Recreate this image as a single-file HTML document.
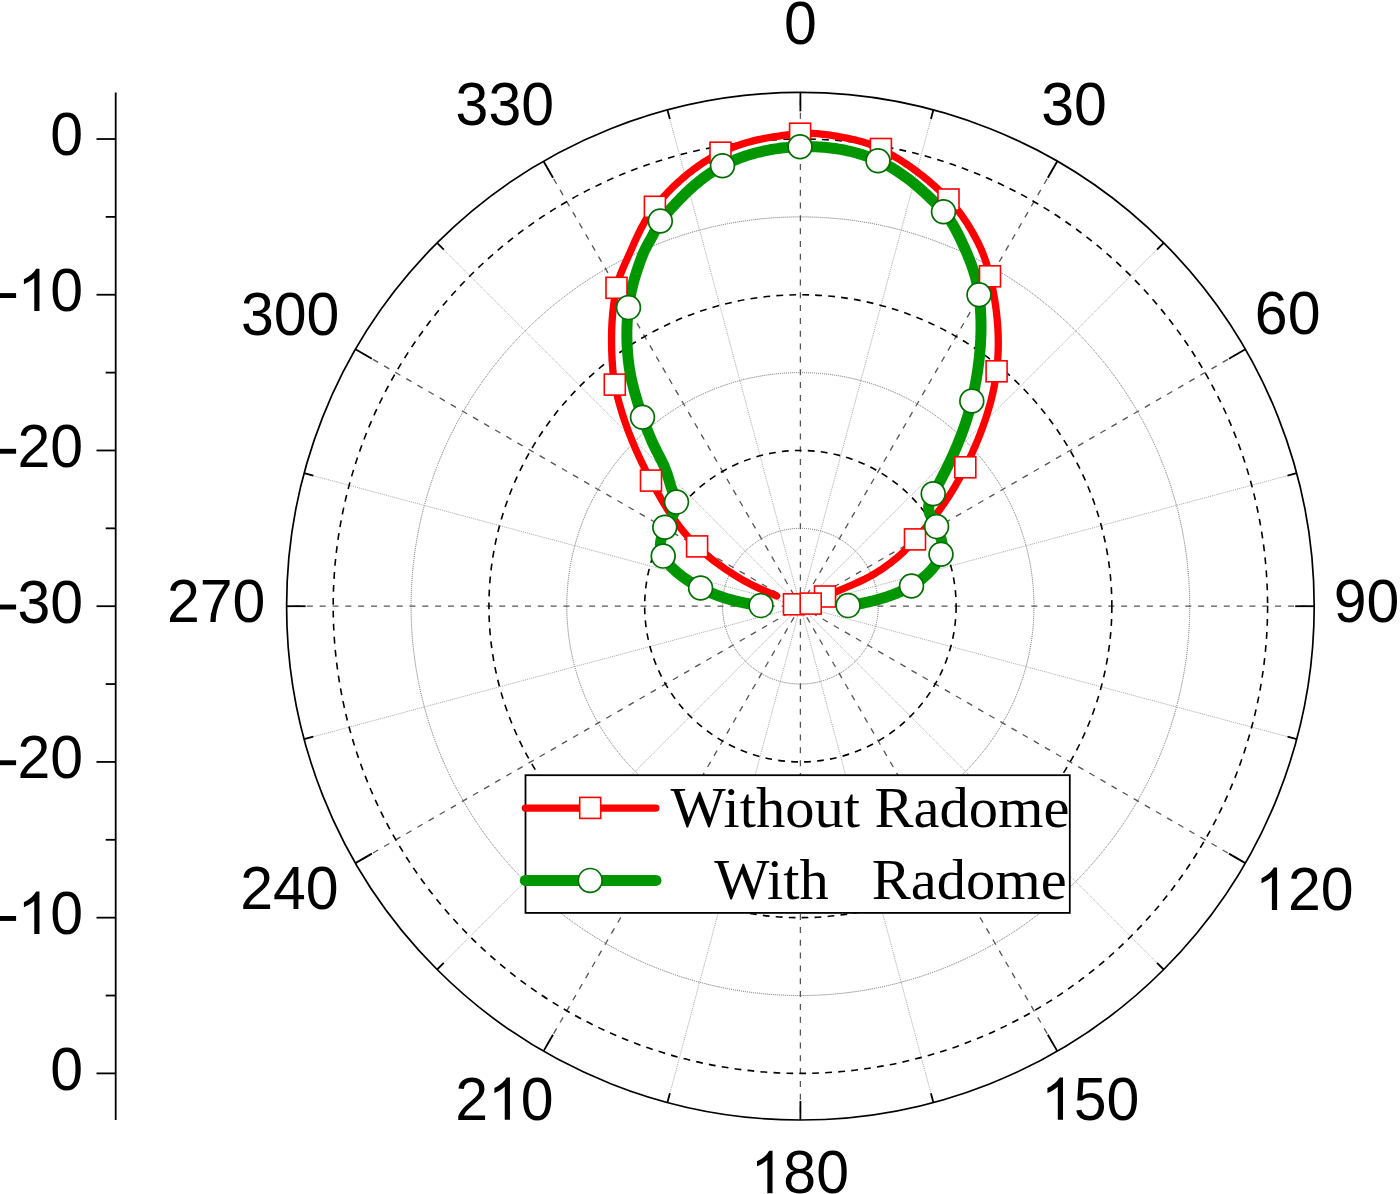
<!DOCTYPE html>
<html><head><meta charset="utf-8"><style>
html,body{margin:0;padding:0;background:#fff;}
svg{display:block;}
.t{font-family:"Liberation Sans",sans-serif;font-size:59px;fill:#000;}
.s{font-family:"Liberation Serif",serif;font-size:58.5px;fill:#000;}
</style></head><body>
<svg width="1400" height="1194" viewBox="0 0 1400 1194">
<rect width="1400" height="1194" fill="#fff"/>
<circle cx="800.4" cy="606.2" r="77.86" fill="none" stroke="#6a6a6a" stroke-width="1" stroke-dasharray="1 1"/>
<circle cx="800.4" cy="606.2" r="233.59" fill="none" stroke="#6a6a6a" stroke-width="1" stroke-dasharray="1 1"/>
<circle cx="800.4" cy="606.2" r="389.32" fill="none" stroke="#6a6a6a" stroke-width="1" stroke-dasharray="1 1"/>
<line x1="800.4" y1="606.2" x2="933.38" y2="109.91" stroke="#a8a8a8" stroke-width="1" stroke-dasharray="1 1"/>
<line x1="800.4" y1="606.2" x2="1163.71" y2="242.89" stroke="#a8a8a8" stroke-width="1" stroke-dasharray="1 1"/>
<line x1="800.4" y1="606.2" x2="1296.69" y2="473.22" stroke="#a8a8a8" stroke-width="1" stroke-dasharray="1 1"/>
<line x1="800.4" y1="606.2" x2="1296.69" y2="739.18" stroke="#a8a8a8" stroke-width="1" stroke-dasharray="1 1"/>
<line x1="800.4" y1="606.2" x2="1163.71" y2="969.51" stroke="#a8a8a8" stroke-width="1" stroke-dasharray="1 1"/>
<line x1="800.4" y1="606.2" x2="933.38" y2="1102.49" stroke="#a8a8a8" stroke-width="1" stroke-dasharray="1 1"/>
<line x1="800.4" y1="606.2" x2="667.42" y2="1102.49" stroke="#a8a8a8" stroke-width="1" stroke-dasharray="1 1"/>
<line x1="800.4" y1="606.2" x2="437.09" y2="969.51" stroke="#a8a8a8" stroke-width="1" stroke-dasharray="1 1"/>
<line x1="800.4" y1="606.2" x2="304.11" y2="739.18" stroke="#a8a8a8" stroke-width="1" stroke-dasharray="1 1"/>
<line x1="800.4" y1="606.2" x2="304.11" y2="473.22" stroke="#a8a8a8" stroke-width="1" stroke-dasharray="1 1"/>
<line x1="800.4" y1="606.2" x2="437.09" y2="242.89" stroke="#a8a8a8" stroke-width="1" stroke-dasharray="1 1"/>
<line x1="800.4" y1="606.2" x2="667.42" y2="109.91" stroke="#a8a8a8" stroke-width="1" stroke-dasharray="1 1"/>
<line x1="800.4" y1="606.2" x2="800.40" y2="92.40" stroke="#555" stroke-width="1.3" stroke-dasharray="6 6.83"/>
<line x1="800.4" y1="606.2" x2="1057.30" y2="161.24" stroke="#555" stroke-width="1.3" stroke-dasharray="6 6.83"/>
<line x1="800.4" y1="606.2" x2="1245.36" y2="349.30" stroke="#555" stroke-width="1.3" stroke-dasharray="6 6.83"/>
<line x1="800.4" y1="606.2" x2="1314.20" y2="606.20" stroke="#555" stroke-width="1.3" stroke-dasharray="6 6.83"/>
<line x1="800.4" y1="606.2" x2="1245.36" y2="863.10" stroke="#555" stroke-width="1.3" stroke-dasharray="6 6.83"/>
<line x1="800.4" y1="606.2" x2="1057.30" y2="1051.16" stroke="#555" stroke-width="1.3" stroke-dasharray="6 6.83"/>
<line x1="800.4" y1="606.2" x2="800.40" y2="1120.00" stroke="#555" stroke-width="1.3" stroke-dasharray="6 6.83"/>
<line x1="800.4" y1="606.2" x2="543.50" y2="1051.16" stroke="#555" stroke-width="1.3" stroke-dasharray="6 6.83"/>
<line x1="800.4" y1="606.2" x2="355.44" y2="863.10" stroke="#555" stroke-width="1.3" stroke-dasharray="6 6.83"/>
<line x1="800.4" y1="606.2" x2="286.60" y2="606.20" stroke="#555" stroke-width="1.3" stroke-dasharray="6 6.83"/>
<line x1="800.4" y1="606.2" x2="355.44" y2="349.30" stroke="#555" stroke-width="1.3" stroke-dasharray="6 6.83"/>
<line x1="800.4" y1="606.2" x2="543.50" y2="161.24" stroke="#555" stroke-width="1.3" stroke-dasharray="6 6.83"/>
<circle cx="800.4" cy="606.2" r="155.73" fill="none" stroke="#000" stroke-width="1.6" stroke-dasharray="6.8 6.2"/>
<circle cx="800.4" cy="606.2" r="311.46" fill="none" stroke="#000" stroke-width="1.6" stroke-dasharray="6.8 6.2"/>
<circle cx="800.4" cy="606.2" r="467.19" fill="none" stroke="#000" stroke-width="1.6" stroke-dasharray="6.8 6.2"/>
<circle cx="800.4" cy="606.2" r="513.8" fill="none" stroke="#000" stroke-width="1.7"/>
<line x1="800.40" y1="92.40" x2="800.40" y2="111.40" stroke="#000" stroke-width="1.8"/>
<line x1="933.38" y1="109.91" x2="930.92" y2="119.08" stroke="#000" stroke-width="1.8"/>
<line x1="1057.30" y1="161.24" x2="1047.80" y2="177.69" stroke="#000" stroke-width="1.8"/>
<line x1="1163.71" y1="242.89" x2="1156.99" y2="249.61" stroke="#000" stroke-width="1.8"/>
<line x1="1245.36" y1="349.30" x2="1228.91" y2="358.80" stroke="#000" stroke-width="1.8"/>
<line x1="1296.69" y1="473.22" x2="1287.52" y2="475.68" stroke="#000" stroke-width="1.8"/>
<line x1="1314.20" y1="606.20" x2="1295.20" y2="606.20" stroke="#000" stroke-width="1.8"/>
<line x1="1296.69" y1="739.18" x2="1287.52" y2="736.72" stroke="#000" stroke-width="1.8"/>
<line x1="1245.36" y1="863.10" x2="1228.91" y2="853.60" stroke="#000" stroke-width="1.8"/>
<line x1="1163.71" y1="969.51" x2="1156.99" y2="962.79" stroke="#000" stroke-width="1.8"/>
<line x1="1057.30" y1="1051.16" x2="1047.80" y2="1034.71" stroke="#000" stroke-width="1.8"/>
<line x1="933.38" y1="1102.49" x2="930.92" y2="1093.32" stroke="#000" stroke-width="1.8"/>
<line x1="800.40" y1="1120.00" x2="800.40" y2="1101.00" stroke="#000" stroke-width="1.8"/>
<line x1="667.42" y1="1102.49" x2="669.88" y2="1093.32" stroke="#000" stroke-width="1.8"/>
<line x1="543.50" y1="1051.16" x2="553.00" y2="1034.71" stroke="#000" stroke-width="1.8"/>
<line x1="437.09" y1="969.51" x2="443.81" y2="962.79" stroke="#000" stroke-width="1.8"/>
<line x1="355.44" y1="863.10" x2="371.89" y2="853.60" stroke="#000" stroke-width="1.8"/>
<line x1="304.11" y1="739.18" x2="313.28" y2="736.72" stroke="#000" stroke-width="1.8"/>
<line x1="286.60" y1="606.20" x2="305.60" y2="606.20" stroke="#000" stroke-width="1.8"/>
<line x1="304.11" y1="473.22" x2="313.28" y2="475.68" stroke="#000" stroke-width="1.8"/>
<line x1="355.44" y1="349.30" x2="371.89" y2="358.80" stroke="#000" stroke-width="1.8"/>
<line x1="437.09" y1="242.89" x2="443.81" y2="249.61" stroke="#000" stroke-width="1.8"/>
<line x1="543.50" y1="161.24" x2="553.00" y2="177.69" stroke="#000" stroke-width="1.8"/>
<line x1="667.42" y1="109.91" x2="669.88" y2="119.08" stroke="#000" stroke-width="1.8"/>
<line x1="115.7" y1="92.40" x2="115.7" y2="1120.00" stroke="#000" stroke-width="1.8"/>
<line x1="96.50" y1="139.01" x2="115.7" y2="139.01" stroke="#000" stroke-width="1.8"/>
<line x1="105.70" y1="216.88" x2="115.7" y2="216.88" stroke="#000" stroke-width="1.8"/>
<line x1="96.50" y1="294.74" x2="115.7" y2="294.74" stroke="#000" stroke-width="1.8"/>
<line x1="105.70" y1="372.61" x2="115.7" y2="372.61" stroke="#000" stroke-width="1.8"/>
<line x1="96.50" y1="450.47" x2="115.7" y2="450.47" stroke="#000" stroke-width="1.8"/>
<line x1="105.70" y1="528.34" x2="115.7" y2="528.34" stroke="#000" stroke-width="1.8"/>
<line x1="96.50" y1="606.20" x2="115.7" y2="606.20" stroke="#000" stroke-width="1.8"/>
<line x1="105.70" y1="684.07" x2="115.7" y2="684.07" stroke="#000" stroke-width="1.8"/>
<line x1="96.50" y1="761.93" x2="115.7" y2="761.93" stroke="#000" stroke-width="1.8"/>
<line x1="105.70" y1="839.80" x2="115.7" y2="839.80" stroke="#000" stroke-width="1.8"/>
<line x1="96.50" y1="917.66" x2="115.7" y2="917.66" stroke="#000" stroke-width="1.8"/>
<line x1="105.70" y1="995.53" x2="115.7" y2="995.53" stroke="#000" stroke-width="1.8"/>
<line x1="96.50" y1="1073.39" x2="115.7" y2="1073.39" stroke="#000" stroke-width="1.8"/>
<g transform="translate(50.29,155.31) scale(1,1.043)"><text x="0.00" y="0" class="t">0</text></g>
<g transform="translate(-2.17,311.04) scale(1,1.043)"><path transform="translate(0.00,0) scale(0.028809,-0.028809)" d="M48 434H634V597H48Z"/><path transform="translate(19.65,0) scale(0.028809,-0.027621)" d="M763 0L583 0L583 1147Q518 1085 412.5 1023Q307 961 223 930L223 1104Q374 1175 487 1276Q600 1377 647 1472L763 1472Z"/><text x="52.46" y="0" class="t">0</text></g>
<g transform="translate(-2.17,466.77) scale(1,1.043)"><path transform="translate(0.00,0) scale(0.028809,-0.028809)" d="M48 434H634V597H48Z"/><text x="19.65" y="0" class="t">2</text><text x="52.46" y="0" class="t">0</text></g>
<g transform="translate(-2.17,622.50) scale(1,1.043)"><path transform="translate(0.00,0) scale(0.028809,-0.028809)" d="M48 434H634V597H48Z"/><text x="19.65" y="0" class="t">3</text><text x="52.46" y="0" class="t">0</text></g>
<g transform="translate(-2.17,778.23) scale(1,1.043)"><path transform="translate(0.00,0) scale(0.028809,-0.028809)" d="M48 434H634V597H48Z"/><text x="19.65" y="0" class="t">2</text><text x="52.46" y="0" class="t">0</text></g>
<g transform="translate(-2.17,933.96) scale(1,1.043)"><path transform="translate(0.00,0) scale(0.028809,-0.028809)" d="M48 434H634V597H48Z"/><path transform="translate(19.65,0) scale(0.028809,-0.027621)" d="M763 0L583 0L583 1147Q518 1085 412.5 1023Q307 961 223 930L223 1104Q374 1175 487 1276Q600 1377 647 1472L763 1472Z"/><text x="52.46" y="0" class="t">0</text></g>
<g transform="translate(50.29,1089.69) scale(1,1.043)"><text x="0.00" y="0" class="t">0</text></g>
<g transform="translate(783.95,43.85) scale(1,1.043)"><text x="0.00" y="0" class="t">0</text></g>
<g transform="translate(1041.20,125.45) scale(1,1.043)"><text x="0.00" y="0" class="t">3</text><text x="32.81" y="0" class="t">0</text></g>
<g transform="translate(1254.85,334.45) scale(1,1.043)"><text x="0.00" y="0" class="t">6</text><text x="32.81" y="0" class="t">0</text></g>
<g transform="translate(1333.78,622.15) scale(1,1.043)"><text x="0.00" y="0" class="t">9</text><text x="32.81" y="0" class="t">0</text></g>
<g transform="translate(1255.10,909.95) scale(1,1.043)"><path transform="translate(0.00,0) scale(0.028809,-0.027621)" d="M763 0L583 0L583 1147Q518 1085 412.5 1023Q307 961 223 930L223 1104Q374 1175 487 1276Q600 1377 647 1472L763 1472Z"/><text x="32.81" y="0" class="t">2</text><text x="65.63" y="0" class="t">0</text></g>
<g transform="translate(1041.00,1119.85) scale(1,1.043)"><path transform="translate(0.00,0) scale(0.028809,-0.027621)" d="M763 0L583 0L583 1147Q518 1085 412.5 1023Q307 961 223 930L223 1104Q374 1175 487 1276Q600 1377 647 1472L763 1472Z"/><text x="32.81" y="0" class="t">5</text><text x="65.63" y="0" class="t">0</text></g>
<g transform="translate(750.55,1193.15) scale(1,1.043)"><path transform="translate(0.00,0) scale(0.028809,-0.027621)" d="M763 0L583 0L583 1147Q518 1085 412.5 1023Q307 961 223 930L223 1104Q374 1175 487 1276Q600 1377 647 1472L763 1472Z"/><text x="32.81" y="0" class="t">8</text><text x="65.63" y="0" class="t">0</text></g>
<g transform="translate(455.15,1119.85) scale(1,1.043)"><text x="0.00" y="0" class="t">2</text><path transform="translate(32.81,0) scale(0.028809,-0.027621)" d="M763 0L583 0L583 1147Q518 1085 412.5 1023Q307 961 223 930L223 1104Q374 1175 487 1276Q600 1377 647 1472L763 1472Z"/><text x="65.63" y="0" class="t">0</text></g>
<g transform="translate(240.23,909.00) scale(1,1.043)"><text x="0.00" y="0" class="t">2</text><text x="32.81" y="0" class="t">4</text><text x="65.63" y="0" class="t">0</text></g>
<g transform="translate(167.00,621.85) scale(1,1.043)"><text x="0.00" y="0" class="t">2</text><text x="32.81" y="0" class="t">7</text><text x="65.63" y="0" class="t">0</text></g>
<g transform="translate(240.90,335.20) scale(1,1.043)"><text x="0.00" y="0" class="t">3</text><text x="32.81" y="0" class="t">0</text><text x="65.63" y="0" class="t">0</text></g>
<g transform="translate(455.60,125.05) scale(1,1.043)"><text x="0.00" y="0" class="t">3</text><text x="32.81" y="0" class="t">3</text><text x="65.63" y="0" class="t">0</text></g>
<path d="M776.70,596.00 L764.92,590.86 L757.10,587.40 L752.06,584.94 L747.93,582.83 L744.52,581.00 L741.64,579.38 L739.10,577.87 L736.72,576.41 L734.30,574.90 L731.86,573.36 L729.47,571.81 L727.10,570.25 L724.78,568.68 L722.50,567.10 L720.26,565.52 L718.06,563.92 L715.91,562.33 L713.80,560.73 L711.74,559.13 L709.73,557.53 L707.77,555.92 L705.85,554.32 L703.99,552.73 L702.19,551.13 L700.44,549.55 L698.74,547.97 L697.10,546.40 L695.55,544.87 L694.03,543.35 L692.55,541.82 L691.10,540.29 L689.69,538.76 L688.30,537.23 L686.94,535.69 L685.62,534.15 L684.31,532.61 L683.03,531.06 L681.78,529.51 L680.55,527.95 L679.33,526.39 L678.14,524.81 L676.97,523.23 L675.81,521.64 L674.67,520.04 L673.54,518.43 L672.42,516.81 L671.32,515.18 L670.22,513.54 L669.14,511.88 L668.06,510.20 L666.99,508.51 L665.93,506.81 L664.87,505.09 L663.81,503.34 L662.75,501.58 L661.70,499.80 L660.65,498.00 L659.59,496.17 L658.54,494.32 L657.48,492.44 L656.41,490.54 L655.34,488.61 L654.27,486.66 L653.19,484.67 L652.10,482.65 L651.00,480.60 L649.89,478.52 L648.78,476.40 L647.67,474.26 L646.56,472.10 L645.45,469.90 L644.34,467.68 L643.23,465.44 L642.13,463.17 L641.03,460.87 L639.93,458.55 L638.84,456.21 L637.76,453.85 L636.69,451.46 L635.63,449.06 L634.58,446.63 L633.54,444.18 L632.51,441.72 L631.50,439.24 L630.50,436.74 L629.51,434.23 L628.54,431.70 L627.59,429.15 L626.66,426.60 L625.74,424.03 L624.85,421.44 L623.97,418.85 L623.12,416.25 L622.29,413.64 L621.48,411.02 L620.69,408.39 L619.93,405.76 L619.19,403.12 L618.48,400.48 L617.80,397.83 L617.14,395.19 L616.51,392.54 L615.91,389.89 L615.34,387.24 L614.80,384.60 L614.31,381.97 L613.90,379.39 L613.55,376.86 L613.26,374.37 L613.01,371.91 L612.79,369.45 L612.60,367.00 L612.43,364.58 L612.27,362.15 L612.12,359.71 L611.99,357.26 L611.87,354.80 L611.77,352.33 L611.69,349.85 L611.62,347.37 L611.58,344.88 L611.55,342.38 L611.54,339.88 L611.55,337.37 L611.57,334.87 L611.62,332.36 L611.69,329.85 L611.79,327.33 L611.90,324.82 L612.04,322.31 L612.19,319.81 L612.38,317.30 L612.58,314.80 L612.81,312.30 L613.07,309.81 L613.34,307.33 L613.65,304.85 L613.98,302.38 L614.33,299.92 L614.71,297.47 L615.12,295.04 L615.55,292.61 L616.01,290.20 L616.50,287.80 L617.05,285.35 L617.66,282.98 L618.33,280.67 L619.04,278.42 L619.80,276.21 L620.60,274.05 L621.43,271.92 L622.30,269.82 L623.18,267.73 L624.09,265.66 L625.02,263.60 L625.95,261.52 L626.90,259.44 L627.85,257.33 L628.80,255.20 L629.71,253.14 L630.62,251.06 L631.54,248.96 L632.47,246.85 L633.41,244.73 L634.36,242.60 L635.32,240.47 L636.30,238.34 L637.29,236.21 L638.30,234.08 L639.33,231.97 L640.38,229.86 L641.45,227.78 L642.55,225.71 L643.66,223.66 L644.80,221.64 L645.97,219.65 L647.16,217.69 L648.38,215.76 L649.62,213.88 L650.90,212.04 L652.20,210.24 L653.54,208.49 L654.90,206.80 L656.28,205.15 L657.68,203.50 L659.08,201.87 L660.51,200.25 L661.94,198.63 L663.39,197.04 L664.86,195.45 L666.33,193.87 L667.83,192.31 L669.33,190.77 L670.85,189.23 L672.38,187.71 L673.93,186.21 L675.49,184.72 L677.06,183.25 L678.65,181.79 L680.25,180.35 L681.86,178.93 L683.49,177.52 L685.13,176.13 L686.78,174.76 L688.45,173.41 L690.13,172.07 L691.82,170.76 L693.52,169.46 L695.24,168.19 L696.97,166.94 L698.71,165.70 L700.46,164.49 L702.23,163.30 L704.00,162.13 L705.79,160.99 L707.59,159.87 L709.40,158.77 L711.23,157.70 L713.06,156.65 L714.90,155.62 L716.76,154.62 L718.62,153.65 L720.50,152.70 L722.42,151.76 L724.35,150.86 L726.29,149.98 L728.25,149.14 L730.21,148.32 L732.18,147.54 L734.15,146.78 L736.14,146.05 L738.13,145.35 L740.14,144.67 L742.14,144.02 L744.16,143.40 L746.18,142.80 L748.21,142.22 L750.24,141.67 L752.28,141.14 L754.32,140.63 L756.37,140.14 L758.42,139.68 L760.48,139.23 L762.54,138.81 L764.60,138.40 L766.67,138.01 L768.74,137.64 L770.81,137.28 L772.89,136.94 L774.97,136.62 L777.05,136.31 L779.14,136.02 L781.23,135.74 L783.32,135.47 L785.41,135.21 L787.50,134.97 L789.60,134.73 L791.69,134.51 L793.79,134.29 L795.89,134.09 L798.00,133.89 L800.10,133.70 L802.25,133.54 L804.40,133.42 L806.55,133.36 L808.70,133.34 L810.85,133.36 L812.99,133.43 L815.14,133.53 L817.29,133.67 L819.43,133.85 L821.57,134.06 L823.71,134.29 L825.85,134.56 L827.98,134.85 L830.11,135.16 L832.24,135.50 L834.36,135.85 L836.48,136.22 L838.60,136.60 L840.66,136.98 L842.73,137.37 L844.79,137.76 L846.84,138.16 L848.90,138.58 L850.95,139.01 L852.99,139.46 L855.03,139.93 L857.07,140.43 L859.10,140.94 L861.13,141.49 L863.15,142.07 L865.16,142.67 L867.16,143.32 L869.16,144.00 L871.14,144.72 L873.12,145.48 L875.08,146.29 L877.04,147.14 L878.98,148.05 L880.90,149.00 L882.79,149.98 L884.67,150.97 L886.53,151.98 L888.40,153.00 L890.25,154.05 L892.09,155.10 L893.92,156.18 L895.75,157.27 L897.56,158.37 L899.36,159.49 L901.16,160.63 L902.94,161.78 L904.72,162.95 L906.48,164.13 L908.24,165.32 L909.98,166.53 L911.72,167.76 L913.44,169.00 L915.15,170.25 L916.85,171.52 L918.54,172.80 L920.22,174.09 L921.89,175.40 L923.55,176.72 L925.20,178.05 L926.83,179.40 L928.46,180.75 L930.07,182.13 L931.67,183.51 L933.26,184.91 L934.84,186.31 L936.40,187.73 L937.96,189.17 L939.50,190.61 L941.03,192.06 L942.55,193.53 L944.06,195.01 L945.55,196.49 L947.03,197.99 L948.50,199.50 L950.01,201.09 L951.50,202.71 L952.96,204.36 L954.41,206.04 L955.83,207.75 L957.23,209.49 L958.61,211.26 L959.97,213.05 L961.30,214.86 L962.62,216.70 L963.91,218.56 L965.19,220.44 L966.44,222.34 L967.67,224.26 L968.88,226.20 L970.07,228.16 L971.24,230.13 L972.39,232.12 L973.52,234.12 L974.64,236.14 L975.73,238.16 L976.80,240.20 L977.85,242.25 L978.87,244.34 L979.86,246.45 L980.82,248.59 L981.75,250.75 L982.65,252.95 L983.53,255.17 L984.37,257.42 L985.18,259.69 L985.96,261.99 L986.71,264.31 L987.43,266.66 L988.12,269.04 L988.78,271.44 L989.41,273.86 L990.00,276.30 L990.56,278.72 L991.10,281.14 L991.63,283.55 L992.14,285.97 L992.63,288.38 L993.10,290.80 L993.55,293.21 L993.98,295.62 L994.39,298.03 L994.79,300.44 L995.16,302.86 L995.52,305.27 L995.85,307.68 L996.17,310.10 L996.46,312.51 L996.74,314.93 L996.99,317.35 L997.22,319.77 L997.43,322.19 L997.62,324.62 L997.78,327.04 L997.92,329.47 L998.04,331.90 L998.14,334.34 L998.21,336.78 L998.26,339.22 L998.29,341.66 L998.29,344.11 L998.27,346.56 L998.22,349.02 L998.14,351.48 L998.04,353.94 L997.92,356.41 L997.77,358.88 L997.59,361.35 L997.38,363.83 L997.15,366.32 L996.89,368.81 L996.60,371.30 L996.29,373.75 L995.94,376.21 L995.57,378.67 L995.16,381.15 L994.72,383.63 L994.25,386.12 L993.75,388.61 L993.22,391.10 L992.67,393.60 L992.09,396.10 L991.47,398.60 L990.84,401.10 L990.18,403.59 L989.49,406.09 L988.78,408.58 L988.04,411.07 L987.28,413.55 L986.50,416.03 L985.70,418.50 L984.87,420.96 L984.03,423.41 L983.16,425.86 L982.28,428.29 L981.38,430.71 L980.47,433.12 L979.54,435.52 L978.59,437.90 L977.63,440.27 L976.65,442.62 L975.66,444.96 L974.66,447.28 L973.65,449.58 L972.63,451.87 L971.61,454.13 L970.57,456.38 L969.53,458.61 L968.48,460.81 L967.42,463.00 L966.36,465.16 L965.30,467.30 L964.22,469.44 L963.13,471.57 L962.02,473.69 L960.90,475.79 L959.77,477.87 L958.62,479.94 L957.46,482.00 L956.29,484.04 L955.11,486.06 L953.92,488.07 L952.71,490.07 L951.49,492.05 L950.26,494.01 L949.02,495.96 L947.77,497.90 L946.51,499.81 L945.24,501.72 L943.96,503.60 L942.67,505.47 L941.36,507.33 L940.05,509.16 L938.73,510.99 L937.40,512.79 L936.06,514.58 L934.71,516.35 L933.35,518.11 L931.99,519.85 L930.61,521.57 L929.23,523.28 L927.84,524.96 L926.44,526.64 L925.03,528.29 L923.62,529.93 L922.20,531.55 L920.77,533.16 L919.34,534.74 L917.90,536.31 L916.45,537.86 L915.00,539.40 L913.58,540.90 L912.27,542.33 L911.03,543.69 L909.86,545.00 L908.72,546.27 L907.60,547.51 L906.48,548.74 L905.32,549.97 L904.12,551.21 L902.85,552.47 L901.48,553.77 L900.00,555.10 L898.37,556.52 L896.71,557.92 L895.02,559.33 L893.29,560.72 L891.51,562.12 L889.69,563.52 L887.81,564.92 L885.87,566.32 L883.86,567.74 L881.77,569.16 L879.60,570.59 L877.35,572.04 L875.00,573.50 L872.34,575.07 L869.05,576.87 L864.99,578.97 L860.00,581.40 L853.10,584.48 L845.00,588.00 L834.75,592.42 L825.00,596.50" fill="none" stroke="#ff0000" stroke-width="7.3" stroke-linecap="round" stroke-linejoin="round"/>
<path d="M761.00,605.60 L759.32,605.39 L757.63,605.17 L755.93,604.93 L754.22,604.67 L752.50,604.40 L750.77,604.11 L749.04,603.81 L747.30,603.49 L745.57,603.16 L743.83,602.81 L742.09,602.44 L740.35,602.06 L738.61,601.67 L736.87,601.25 L735.14,600.82 L733.42,600.38 L731.70,599.92 L729.99,599.45 L728.29,598.96 L726.60,598.46 L724.92,597.94 L723.25,597.41 L721.60,596.87 L719.96,596.31 L718.34,595.74 L716.74,595.15 L715.15,594.56 L713.59,593.95 L712.05,593.33 L710.53,592.70 L709.03,592.05 L707.56,591.40 L706.11,590.74 L704.69,590.07 L703.30,589.39 L701.93,588.70 L700.60,588.00 L699.29,587.29 L697.98,586.57 L696.68,585.84 L695.39,585.10 L694.11,584.35 L692.84,583.59 L691.58,582.82 L690.33,582.04 L689.10,581.24 L687.88,580.44 L686.68,579.63 L685.49,578.81 L684.33,577.99 L683.18,577.15 L682.04,576.31 L680.93,575.46 L679.84,574.60 L678.77,573.74 L677.73,572.88 L676.70,572.00 L675.70,571.13 L674.73,570.25 L673.78,569.36 L672.86,568.48 L671.96,567.59 L671.10,566.70 L670.26,565.80 L669.46,564.91 L668.68,564.02 L667.93,563.13 L667.22,562.24 L666.54,561.35 L665.90,560.46 L665.29,559.58 L664.71,558.70 L664.17,557.83 L663.67,556.96 L663.20,556.10 L662.78,555.25 L662.39,554.41 L662.05,553.58 L661.74,552.76 L661.47,551.95 L661.23,551.14 L661.03,550.35 L660.86,549.56 L660.72,548.78 L660.61,548.01 L660.52,547.24 L660.47,546.49 L660.44,545.74 L660.43,545.00 L660.45,544.26 L660.49,543.54 L660.55,542.82 L660.62,542.10 L660.72,541.40 L660.83,540.70 L660.96,540.00 L661.11,539.31 L661.26,538.62 L661.43,537.94 L661.61,537.26 L661.80,536.59 L661.99,535.92 L662.20,535.25 L662.41,534.58 L662.62,533.92 L662.84,533.25 L663.06,532.59 L663.29,531.92 L663.51,531.25 L663.73,530.59 L663.95,529.92 L664.17,529.24 L664.39,528.57 L664.60,527.89 L664.80,527.20 L665.02,526.52 L665.29,525.86 L665.59,525.22 L665.93,524.61 L666.29,524.01 L666.69,523.42 L667.10,522.85 L667.53,522.29 L667.97,521.75 L668.43,521.20 L668.88,520.67 L669.35,520.13 L669.81,519.60 L670.26,519.06 L670.71,518.52 L671.14,517.97 L671.56,517.40 L671.96,516.83 L672.33,516.24 L672.68,515.63 L673.00,515.00 L673.31,514.35 L673.63,513.69 L673.95,513.04 L674.26,512.38 L674.57,511.72 L674.87,511.04 L675.15,510.35 L675.42,509.65 L675.67,508.93 L675.89,508.19 L676.08,507.42 L676.25,506.63 L676.38,505.80 L676.47,504.93 L676.53,504.03 L676.54,503.09 L676.50,502.10 L676.36,501.04 L676.06,499.84 L675.64,498.52 L675.11,497.09 L674.51,495.59 L673.87,494.02 L673.20,492.42 L672.53,490.80 L671.89,489.19 L671.30,487.60 L670.76,486.02 L670.27,484.46 L669.81,482.92 L669.37,481.37 L668.92,479.80 L668.46,478.21 L667.97,476.56 L667.43,474.84 L666.82,473.05 L666.14,471.15 L665.37,469.14 L664.50,467.00 L663.42,464.57 L662.14,461.90 L660.71,459.02 L659.17,456.00 L657.58,452.87 L655.97,449.68 L654.39,446.47 L652.89,443.29 L651.50,440.20 L650.28,437.35 L649.08,434.49 L647.91,431.62 L646.76,428.74 L645.64,425.85 L644.56,422.97 L643.51,420.08 L642.50,417.20 L641.51,414.30 L640.52,411.37 L639.55,408.42 L638.59,405.44 L637.65,402.45 L636.73,399.44 L635.84,396.42 L634.98,393.41 L634.15,390.39 L633.37,387.38 L632.62,384.39 L631.92,381.41 L631.27,378.46 L630.66,375.54 L630.12,372.65 L629.63,369.80 L629.20,367.00 L628.81,364.17 L628.46,361.35 L628.15,358.54 L627.87,355.74 L627.62,352.96 L627.41,350.19 L627.23,347.43 L627.09,344.68 L626.98,341.95 L626.91,339.22 L626.86,336.52 L626.86,333.82 L626.88,331.14 L626.93,328.47 L627.02,325.81 L627.14,323.17 L627.29,320.54 L627.47,317.92 L627.68,315.32 L627.93,312.73 L628.20,310.16 L628.50,307.60 L628.84,305.04 L629.21,302.50 L629.62,299.99 L630.05,297.50 L630.53,295.03 L631.03,292.58 L631.56,290.16 L632.12,287.74 L632.71,285.35 L633.32,282.97 L633.97,280.60 L634.63,278.25 L635.32,275.91 L636.04,273.58 L636.77,271.26 L637.53,268.95 L638.31,266.65 L639.11,264.35 L639.93,262.06 L640.77,259.77 L641.63,257.49 L642.50,255.20 L643.40,253.01 L644.34,250.89 L645.34,248.85 L646.37,246.86 L647.42,244.91 L648.50,242.97 L649.60,241.04 L650.70,239.10 L651.80,237.12 L652.90,235.10 L654.08,232.73 L655.22,230.22 L656.38,227.68 L657.58,225.23 L658.88,222.96 L660.30,221.00 L661.66,219.39 L663.03,217.77 L664.41,216.16 L665.81,214.55 L667.21,212.94 L668.62,211.33 L670.05,209.72 L671.48,208.12 L672.93,206.52 L674.39,204.93 L675.86,203.35 L677.35,201.77 L678.84,200.21 L680.35,198.65 L681.87,197.10 L683.41,195.57 L684.96,194.05 L686.52,192.54 L688.10,191.05 L689.69,189.57 L691.29,188.11 L692.91,186.67 L694.54,185.24 L696.19,183.84 L697.85,182.45 L699.52,181.09 L701.21,179.75 L702.91,178.43 L704.62,177.14 L706.35,175.88 L708.09,174.64 L709.85,173.42 L711.62,172.24 L713.40,171.09 L715.19,169.97 L717.00,168.87 L718.82,167.82 L720.65,166.79 L722.50,165.80 L724.36,164.84 L726.23,163.90 L728.12,163.00 L730.01,162.12 L731.91,161.27 L733.82,160.44 L735.74,159.64 L737.66,158.87 L739.60,158.12 L741.54,157.40 L743.49,156.71 L745.45,156.04 L747.41,155.39 L749.38,154.77 L751.36,154.18 L753.34,153.61 L755.33,153.06 L757.32,152.54 L759.32,152.04 L761.32,151.57 L763.33,151.12 L765.35,150.69 L767.36,150.28 L769.38,149.90 L771.41,149.54 L773.43,149.20 L775.46,148.89 L777.50,148.59 L779.53,148.32 L781.57,148.07 L783.61,147.84 L785.66,147.62 L787.70,147.43 L789.75,147.26 L791.80,147.11 L793.85,146.98 L795.90,146.87 L797.95,146.77 L800.00,146.70 L802.04,146.64 L804.09,146.61 L806.13,146.59 L808.17,146.59 L810.21,146.61 L812.26,146.65 L814.30,146.71 L816.34,146.79 L818.38,146.89 L820.42,147.01 L822.46,147.15 L824.50,147.31 L826.53,147.50 L828.56,147.70 L830.59,147.93 L832.62,148.18 L834.65,148.46 L836.67,148.75 L838.69,149.07 L840.71,149.42 L842.72,149.78 L844.73,150.17 L846.73,150.59 L848.73,151.03 L850.73,151.49 L852.72,151.98 L854.70,152.50 L856.68,153.03 L858.66,153.60 L860.62,154.19 L862.59,154.81 L864.54,155.45 L866.49,156.12 L868.43,156.81 L870.36,157.54 L872.28,158.29 L874.20,159.06 L876.10,159.87 L878.00,160.70 L879.86,161.55 L881.72,162.43 L883.56,163.35 L885.40,164.29 L887.22,165.26 L889.03,166.26 L890.83,167.29 L892.62,168.34 L894.39,169.42 L896.16,170.53 L897.91,171.66 L899.65,172.81 L901.38,173.99 L903.10,175.18 L904.81,176.40 L906.50,177.64 L908.18,178.91 L909.85,180.19 L911.51,181.49 L913.15,182.80 L914.78,184.14 L916.40,185.49 L918.01,186.85 L919.60,188.23 L921.18,189.63 L922.75,191.04 L924.31,192.46 L925.86,193.90 L927.39,195.34 L928.91,196.80 L930.42,198.26 L931.92,199.74 L933.40,201.22 L934.88,202.72 L936.34,204.22 L937.80,205.72 L939.24,207.24 L940.67,208.75 L942.09,210.27 L943.50,211.80 L944.98,213.47 L946.41,215.21 L947.81,217.03 L949.17,218.91 L950.49,220.86 L951.78,222.86 L953.04,224.91 L954.26,227.00 L955.45,229.14 L956.61,231.30 L957.74,233.50 L958.85,235.72 L959.94,237.95 L961.00,240.20 L962.00,242.35 L962.99,244.48 L963.96,246.62 L964.92,248.75 L965.86,250.88 L966.79,253.02 L967.70,255.16 L968.59,257.31 L969.46,259.47 L970.30,261.65 L971.13,263.84 L971.93,266.04 L972.70,268.27 L973.44,270.52 L974.16,272.79 L974.85,275.09 L975.50,277.42 L976.12,279.78 L976.70,282.17 L977.24,284.60 L977.75,287.06 L978.21,289.57 L978.63,292.11 L979.00,294.70 L979.33,297.27 L979.63,299.86 L979.90,302.46 L980.14,305.08 L980.35,307.70 L980.53,310.34 L980.68,312.99 L980.81,315.65 L980.90,318.32 L980.97,320.99 L981.01,323.68 L981.02,326.37 L981.01,329.06 L980.97,331.76 L980.90,334.47 L980.81,337.17 L980.69,339.88 L980.54,342.59 L980.37,345.30 L980.18,348.01 L979.96,350.72 L979.71,353.43 L979.45,356.14 L979.16,358.84 L978.85,361.53 L978.51,364.23 L978.16,366.91 L977.78,369.59 L977.38,372.27 L976.96,374.93 L976.53,377.59 L976.07,380.24 L975.60,382.88 L975.10,385.50 L974.59,388.12 L974.07,390.72 L973.52,393.31 L972.96,395.89 L972.39,398.45 L971.80,401.00 L971.18,403.57 L970.53,406.14 L969.85,408.72 L969.13,411.31 L968.39,413.89 L967.62,416.48 L966.82,419.06 L965.99,421.64 L965.13,424.22 L964.25,426.80 L963.35,429.36 L962.42,431.92 L961.47,434.47 L960.50,437.01 L959.51,439.54 L958.51,442.06 L957.48,444.56 L956.44,447.04 L955.38,449.51 L954.32,451.96 L953.23,454.40 L952.14,456.81 L951.04,459.20 L949.93,461.57 L948.81,463.92 L947.68,466.24 L946.56,468.54 L945.42,470.81 L944.29,473.06 L943.16,475.27 L942.03,477.46 L940.90,479.61 L939.77,481.74 L938.65,483.83 L937.54,485.90 L936.44,487.92 L935.35,489.92 L934.27,491.88 L933.20,493.80 L932.19,495.69 L931.32,497.43 L930.60,499.03 L930.01,500.50 L929.55,501.86 L929.19,503.12 L928.93,504.28 L928.76,505.37 L928.66,506.39 L928.63,507.35 L928.65,508.27 L928.71,509.15 L928.80,510.00 L928.91,510.79 L929.06,511.56 L929.24,512.30 L929.44,513.01 L929.68,513.70 L929.94,514.37 L930.23,515.02 L930.53,515.66 L930.86,516.28 L931.19,516.89 L931.55,517.49 L931.91,518.08 L932.28,518.67 L932.66,519.25 L933.04,519.84 L933.41,520.42 L933.79,521.00 L934.16,521.59 L934.52,522.18 L934.88,522.78 L935.22,523.39 L935.54,524.01 L935.84,524.63 L936.12,525.27 L936.37,525.93 L936.60,526.60 L936.81,527.27 L937.04,527.94 L937.27,528.60 L937.50,529.25 L937.75,529.90 L937.99,530.55 L938.24,531.20 L938.49,531.84 L938.75,532.48 L939.00,533.12 L939.25,533.76 L939.50,534.40 L939.75,535.04 L939.99,535.69 L940.23,536.33 L940.46,536.98 L940.68,537.63 L940.89,538.28 L941.10,538.94 L941.29,539.60 L941.47,540.27 L941.64,540.94 L941.79,541.62 L941.93,542.30 L942.05,542.99 L942.15,543.68 L942.24,544.38 L942.30,545.09 L942.34,545.81 L942.36,546.53 L942.35,547.26 L942.32,548.00 L942.26,548.75 L942.18,549.50 L942.06,550.26 L941.91,551.03 L941.74,551.81 L941.53,552.60 L941.28,553.40 L941.00,554.20 L940.68,555.03 L940.34,555.86 L939.98,556.69 L939.60,557.53 L939.19,558.37 L938.77,559.21 L938.32,560.05 L937.84,560.89 L937.35,561.73 L936.83,562.57 L936.29,563.41 L935.72,564.25 L935.13,565.10 L934.52,565.94 L933.89,566.78 L933.23,567.62 L932.55,568.45 L931.85,569.29 L931.12,570.12 L930.37,570.96 L929.59,571.79 L928.79,572.61 L927.97,573.44 L927.12,574.26 L926.25,575.07 L925.36,575.89 L924.44,576.70 L923.49,577.50 L922.52,578.30 L921.53,579.10 L920.52,579.89 L919.48,580.68 L918.41,581.46 L917.32,582.23 L916.20,583.00 L915.07,583.76 L913.90,584.51 L912.71,585.26 L911.50,586.00 L910.27,586.72 L909.00,587.44 L907.68,588.15 L906.33,588.86 L904.93,589.56 L903.50,590.26 L902.03,590.94 L900.53,591.62 L898.99,592.28 L897.43,592.94 L895.83,593.58 L894.21,594.22 L892.56,594.84 L890.89,595.45 L889.19,596.05 L887.48,596.63 L885.75,597.20 L884.00,597.76 L882.23,598.30 L880.45,598.83 L878.66,599.34 L876.86,599.84 L875.05,600.32 L873.23,600.79 L871.41,601.24 L869.59,601.67 L867.76,602.09 L865.94,602.49 L864.11,602.87 L862.29,603.24 L860.48,603.59 L858.68,603.93 L856.88,604.25 L855.09,604.55 L853.32,604.84 L851.56,605.11 L849.82,605.36 L848.10,605.60" fill="none" stroke="#009600" stroke-width="11.0" stroke-linecap="round" stroke-linejoin="round"/>
<rect x="686.60" y="535.90" width="21.0" height="21.0" fill="#fff" stroke="#ff0000" stroke-width="1.6"/>
<rect x="640.50" y="470.10" width="21.0" height="21.0" fill="#fff" stroke="#ff0000" stroke-width="1.6"/>
<rect x="604.30" y="374.10" width="21.0" height="21.0" fill="#fff" stroke="#ff0000" stroke-width="1.6"/>
<rect x="606.00" y="277.30" width="21.0" height="21.0" fill="#fff" stroke="#ff0000" stroke-width="1.6"/>
<rect x="644.40" y="196.30" width="21.0" height="21.0" fill="#fff" stroke="#ff0000" stroke-width="1.6"/>
<rect x="710.00" y="142.20" width="21.0" height="21.0" fill="#fff" stroke="#ff0000" stroke-width="1.6"/>
<rect x="789.60" y="123.20" width="21.0" height="21.0" fill="#fff" stroke="#ff0000" stroke-width="1.6"/>
<rect x="870.40" y="138.50" width="21.0" height="21.0" fill="#fff" stroke="#ff0000" stroke-width="1.6"/>
<rect x="938.00" y="189.00" width="21.0" height="21.0" fill="#fff" stroke="#ff0000" stroke-width="1.6"/>
<rect x="979.50" y="265.80" width="21.0" height="21.0" fill="#fff" stroke="#ff0000" stroke-width="1.6"/>
<rect x="986.10" y="360.80" width="21.0" height="21.0" fill="#fff" stroke="#ff0000" stroke-width="1.6"/>
<rect x="954.80" y="456.80" width="21.0" height="21.0" fill="#fff" stroke="#ff0000" stroke-width="1.6"/>
<rect x="904.50" y="528.90" width="21.0" height="21.0" fill="#fff" stroke="#ff0000" stroke-width="1.6"/>
<rect x="814.50" y="586.00" width="21.0" height="21.0" fill="#fff" stroke="#ff0000" stroke-width="1.6"/>
<rect x="783.50" y="593.80" width="21.0" height="21.0" fill="#fff" stroke="#ff0000" stroke-width="1.6"/>
<rect x="800.20" y="593.10" width="21.0" height="21.0" fill="#fff" stroke="#ff0000" stroke-width="1.6"/>
<circle cx="761.00" cy="605.60" r="11.9" fill="#fff" stroke="#006e00" stroke-width="1.7"/>
<circle cx="700.60" cy="588.00" r="11.9" fill="#fff" stroke="#006e00" stroke-width="1.7"/>
<circle cx="663.20" cy="556.10" r="11.9" fill="#fff" stroke="#006e00" stroke-width="1.7"/>
<circle cx="664.80" cy="527.20" r="11.9" fill="#fff" stroke="#006e00" stroke-width="1.7"/>
<circle cx="676.50" cy="502.10" r="11.9" fill="#fff" stroke="#006e00" stroke-width="1.7"/>
<circle cx="642.50" cy="417.20" r="11.9" fill="#fff" stroke="#006e00" stroke-width="1.7"/>
<circle cx="628.50" cy="307.60" r="11.9" fill="#fff" stroke="#006e00" stroke-width="1.7"/>
<circle cx="660.30" cy="221.00" r="11.9" fill="#fff" stroke="#006e00" stroke-width="1.7"/>
<circle cx="722.50" cy="165.80" r="11.9" fill="#fff" stroke="#006e00" stroke-width="1.7"/>
<circle cx="800.00" cy="146.70" r="11.9" fill="#fff" stroke="#006e00" stroke-width="1.7"/>
<circle cx="878.00" cy="160.70" r="11.9" fill="#fff" stroke="#006e00" stroke-width="1.7"/>
<circle cx="943.50" cy="211.80" r="11.9" fill="#fff" stroke="#006e00" stroke-width="1.7"/>
<circle cx="979.00" cy="294.70" r="11.9" fill="#fff" stroke="#006e00" stroke-width="1.7"/>
<circle cx="971.80" cy="401.00" r="11.9" fill="#fff" stroke="#006e00" stroke-width="1.7"/>
<circle cx="933.20" cy="493.80" r="11.9" fill="#fff" stroke="#006e00" stroke-width="1.7"/>
<circle cx="936.60" cy="526.60" r="11.9" fill="#fff" stroke="#006e00" stroke-width="1.7"/>
<circle cx="941.00" cy="554.20" r="11.9" fill="#fff" stroke="#006e00" stroke-width="1.7"/>
<circle cx="911.50" cy="586.00" r="11.9" fill="#fff" stroke="#006e00" stroke-width="1.7"/>
<circle cx="848.10" cy="605.60" r="11.9" fill="#fff" stroke="#006e00" stroke-width="1.7"/>
<rect x="525.5" y="775.2" width="544.3" height="137.7" fill="#fff" stroke="#000" stroke-width="1.8"/>
<line x1="525.3" y1="808.1" x2="655.9" y2="808.1" stroke="#ff0000" stroke-width="7.3" stroke-linecap="round"/>
<rect x="579.70" y="797.40" width="21.0" height="21.0" fill="#fff" stroke="#ff0000" stroke-width="1.6"/>
<line x1="525.3" y1="880.4" x2="656" y2="880.4" stroke="#009600" stroke-width="11.0" stroke-linecap="round"/>
<circle cx="590.20" cy="880.40" r="11.9" fill="#fff" stroke="#006e00" stroke-width="1.7"/>
<text transform="translate(670.6,827.3) scale(1,0.975)" class="s">Without</text>
<text transform="translate(874.5,827.3) scale(1,0.975)" class="s">Radome</text>
<text transform="translate(714.2,898.8) scale(1,0.975)" class="s">With</text>
<text transform="translate(871.8,898.8) scale(1,0.975)" class="s">Radome</text>
</svg>
</body></html>
